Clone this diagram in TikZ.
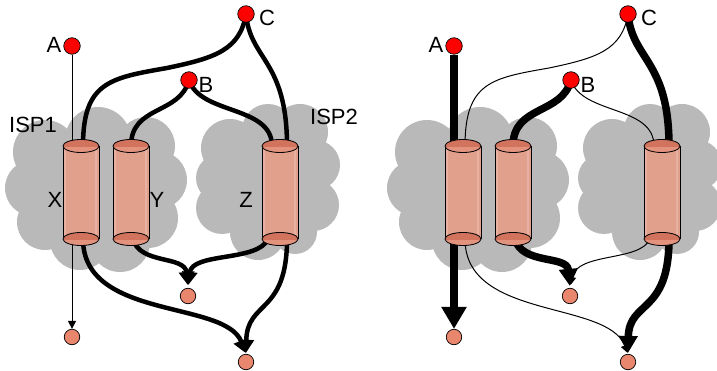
\documentclass[tikz,border=0pt]{standalone}
\usepackage{fontspec}
\setmainfont{Liberation Sans}
\usetikzlibrary{arrows.meta}

\definecolor{cloudgray}{HTML}{B9B9B9}
\definecolor{tubefill}{HTML}{E0A08C}
\definecolor{tubelight}{HTML}{E8B0A0}
\definecolor{capdark}{HTML}{D2735E}
\definecolor{caplight}{HTML}{E3927E}
\definecolor{sinkfill}{HTML}{E8866E}

\pgfdeclarelayer{cloudlayer}
\pgfdeclarelayer{flowlayer}
\pgfsetlayers{cloudlayer,flowlayer,main}

\tikzset{
  redpt/.style={circle,draw=black,line width=0.7pt,fill=red,minimum size=16.5pt,inner sep=0pt},
  sinkpt/.style={circle,draw=black,line width=0.7pt,fill=sinkfill,minimum size=15.5pt,inner sep=0pt},
  lbl/.style={font=\fontsize{22}{22}\selectfont,inner sep=0pt},
  thinflow/.style={line width=1pt},
  midflow/.style={line width=4.5pt},
  heavyflow/.style={line width=7.5pt},
  smalltip/.style={-{Triangle[length=8pt,width=8pt]}},
  midtip/.style={-{Triangle[length=13pt,width=15pt]}},
  bigtip/.style={-{Triangle[length=17pt,width=18pt]}},
  hugetip/.style={-{Triangle[length=22pt,width=24pt]}},
}

% gray cloud behind ISP1
\newcommand\ispcloudleft{%
  \fill[cloudgray] (45,152) circle[radius=32pt] (98,140) circle[radius=33pt]
    (146,146) circle[radius=29pt] (158,180) circle[radius=29pt]
    (148,218) circle[radius=30pt] (120,242) circle[radius=30pt]
    (80,240) circle[radius=30pt] (45,222) circle[radius=28pt]
    (33,188) circle[radius=28pt] (100,190) circle[radius=55pt];}
% gray cloud behind ISP2
\newcommand\ispcloudright{%
  \fill[cloudgray] (230,148) circle[radius=29pt] (268,130) circle[radius=26pt]
    (300,132) circle[radius=28pt] (315,165) circle[radius=25pt]
    (313,205) circle[radius=26pt] (295,232) circle[radius=22pt]
    (258,232) circle[radius=28pt] (222,208) circle[radius=26pt]
    (220,178) circle[radius=24pt] (268,185) circle[radius=50pt];}

% one end face of a tube, centred at (#1,#2)
\newcommand\tubecap[2]{%
  \fill[caplight] (#1,#2) ellipse[x radius=18pt,y radius=6.5pt];
  \begin{scope}
    \clip (#1-19,#2-8) rectangle (#1+19,#2+0.5);
    \fill[capdark] (#1,#2) ellipse[x radius=18pt,y radius=6.5pt];
  \end{scope}
  \draw[line width=0.8pt] (#1,#2) ellipse[x radius=18pt,y radius=6.5pt];}

% a vertical tube with centre line at x = #1
\newcommand\tubeat[1]{%
  \fill[tubefill] (#1-18,146) rectangle (#1+18,239);
  \fill[tubelight] (#1-17,146) rectangle (#1-15,239);
  \fill[tubelight] (#1+14,146) rectangle (#1+16,239);
  \draw[line width=0.8pt] (#1-18,146) -- (#1-18,239) (#1+18,146) -- (#1+18,239);
  \tubecap{#1}{239}
  \tubecap{#1}{146}}

\begin{document}
\begin{tikzpicture}[x=1pt,y=-1pt]
\useasboundingbox (0,0) rectangle (717,371);
\clip (0,0) rectangle (717,371);

% ---------------- left panel: single-path routing ----------------
\begin{pgfonlayer}{cloudlayer}
  \ispcloudleft
  \ispcloudright
\end{pgfonlayer}

\tubeat{81}
\tubeat{131}
\tubeat{280}

\node[redpt] (A) at (72,46) {};
\node[redpt] (C) at (246,14) {};
\node[redpt] (B) at (189,80) {};
\node[sinkpt] (L1) at (72,337) {};
\node[sinkpt] (M1) at (188,296) {};
\node[sinkpt] (R1) at (246,362) {};

\coordinate (Xc) at (83,146);  \coordinate (Xr) at (83,239);
\coordinate (Yb) at (131,146); \coordinate (Ym) at (133,239);
\coordinate (Zb) at (272,146); \coordinate (Zc) at (287,146);
\coordinate (Zm) at (268,239); \coordinate (Zr) at (287,239);

\begin{pgfonlayer}{flowlayer}
\draw[thinflow,smalltip] (A) -- (L1);
\draw[midflow] (C.center) .. controls (240,50) and (215,58) .. (167,68)
                          .. controls (110,78) and (83,82) .. (Xc);
\draw[midflow] (C.center) .. controls (250,60) and (287,60) .. (Zc);
\draw[midflow] (B.center) .. controls (180,115) and (131,105) .. (Yb);
\draw[midflow] (B.center) .. controls (200,115) and (272,105) .. (Zb);
\draw[midflow,midtip,shorten >=1pt] (Xr) .. controls (83,320) and (225,300) .. (R1.north);
\draw[midflow,midtip,shorten >=1pt] (Zr) .. controls (287,315) and (247,300) .. (R1.north);
\draw[midflow,midtip,shorten >=3pt] (Ym) .. controls (140,265) and (185,255) .. (M1.north);
\draw[midflow,midtip,shorten >=3pt] (Zm) .. controls (258,262) and (192,252) .. (M1.north);
\end{pgfonlayer}

\node[lbl] (labA) at (54,45) {A};
\node[lbl] (labC) at (267,18) {C};
\node[lbl] (labB) at (206,85) {B};
\node[lbl] (isp1) at (33,125) {ISP1};
\node[lbl] (isp2) at (334,117) {ISP2};
\node[lbl] (labX) at (55,200) {X};
\node[lbl] (labY) at (157,200) {Y};
\node[lbl] (labZ) at (246,200) {Z};

% ---------------- right panel: weighted multipath routing ----------------
\begin{scope}[xshift=382pt]
\begin{pgfonlayer}{cloudlayer}
  \ispcloudleft
  \ispcloudright
\end{pgfonlayer}

\tubeat{81}
\tubeat{131}
\tubeat{280}

\node[redpt] (A2) at (72,46) {};
\node[redpt] (C2) at (246,14) {};
\node[redpt] (B2) at (189,80) {};
\node[sinkpt] (L2) at (72,337) {};
\node[sinkpt] (M2) at (188,296) {};
\node[sinkpt] (R2) at (246,362) {};

\coordinate (Xc2) at (83,146);  \coordinate (Xr2) at (83,239);
\coordinate (Yb2) at (131,146); \coordinate (Ym2) at (133,239);
\coordinate (Zb2) at (272,146); \coordinate (Zc2) at (287,146);
\coordinate (Zm2) at (268,239); \coordinate (Zr2) at (287,239);

\begin{pgfonlayer}{flowlayer}
\draw[heavyflow,hugetip] (A2) -- (L2);
\draw[thinflow] (C2.center) .. controls (240,50) and (215,58) .. (167,68)
                            .. controls (110,78) and (83,82) .. (Xc2);
\draw[heavyflow] (C2.center) .. controls (250,60) and (287,60) .. (Zc2);
\draw[heavyflow] (B2.center) .. controls (180,115) and (131,105) .. (Yb2);
\draw[thinflow] (B2.center) .. controls (200,115) and (272,105) .. (Zb2);
\draw[thinflow,smalltip,shorten >=1pt] (Xr2) .. controls (83,320) and (225,300) .. (R2.north);
\draw[heavyflow,bigtip,shorten >=1pt] (Zr2) .. controls (287,315) and (247,300) .. (R2.north);
\draw[heavyflow,bigtip,shorten >=2pt] (Ym2) .. controls (140,265) and (185,255) .. (M2.north);
\draw[thinflow,smalltip,shorten >=3pt] (Zm2) .. controls (258,262) and (195,252) .. (M2.north);
\end{pgfonlayer}

\node[lbl] (labA2) at (54,45) {A};
\node[lbl] (labC2) at (267,18) {C};
\node[lbl] (labB2) at (206,85) {B};
\end{scope}
\end{tikzpicture}
\end{document}
